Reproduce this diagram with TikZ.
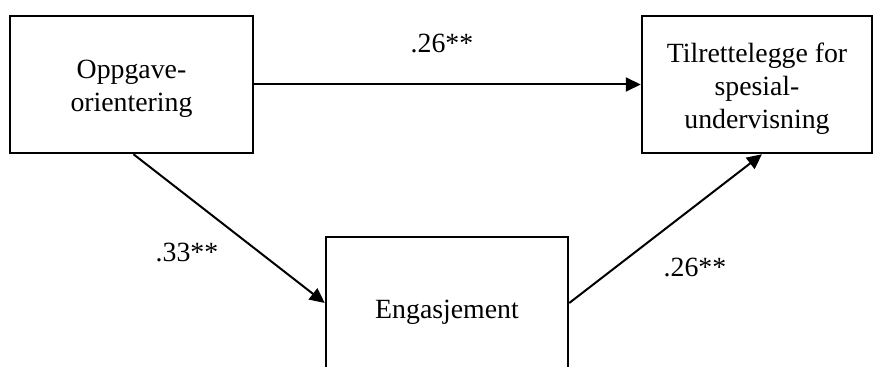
\documentclass[tikz,border=0pt]{standalone}
\usepackage{fontspec}
\setmainfont{Liberation Serif}
\usetikzlibrary{arrows.meta}
\begin{document}
\begin{tikzpicture}[x=0.5pt,y=-0.5pt,
  txt/.style={inner sep=0pt,align=center,font=\fontsize{13.9pt}{16.5pt}\selectfont},
  box/.style={draw,line width=1.25pt,inner sep=0pt},
  conn/.style={line width=1pt,-{Triangle[length=7.5pt,width=7pt]}},
  lbl/.style={inner sep=0pt,anchor=base,font=\fontsize{13.9pt}{16.5pt}\selectfont}]
\useasboundingbox (0,0) rectangle (876,367);
\clip (0,0) rectangle (876,367);
\node[box,minimum width=121.5pt,minimum height=68.5pt] (left) at (131.5,84.5) {};
\node[box,minimum width=115pt,minimum height=68.5pt] (right) at (757,84.5) {};
\node[box,minimum width=121pt,minimum height=71pt] (bot) at (447,308) {};
\node[txt] (lefttext) at (131.5,89) {Oppgave-\\orientering};
\node[txt] (righttext) at (757,89) {Tilrettelegge for\\spesial-\\undervisning};
\node[txt] (bottext) at (447,312) {Engasjement};
\draw[conn] (left.east) -- (right.west);
\draw[conn] ([xshift=1pt]left.south) -- ([yshift=2.5pt]bot.west);
\draw[conn] ([yshift=2.5pt]bot.east) -- ([xshift=2.5pt]right.south);
\node[lbl] (l1) at (442,53) {.26**};
\node[lbl] (l2) at (187,262) {.33**};
\node[lbl] (l3) at (695,277) {.26**};
\end{tikzpicture}
\end{document}
